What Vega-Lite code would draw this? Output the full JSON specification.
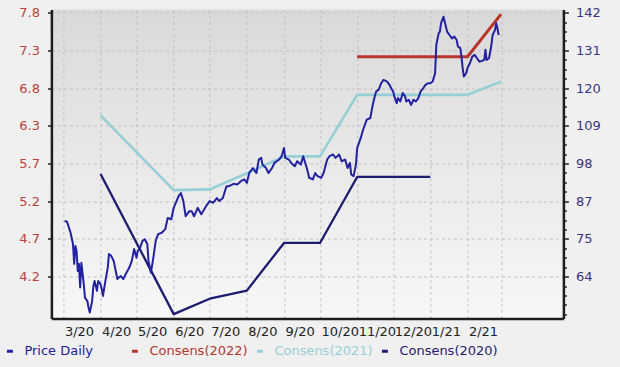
{
"$schema": "https://vega.github.io/schema/vega-lite/v6.json",
"width": 512, "height": 309,
"autosize": {"type": "none"},
"padding": {"left": 51.4, "top": 9.5, "right": 56.5, "bottom": 48.5},
"background": "#f0f0f0",
"config": {
  "view": {"stroke": null, "fill": {"gradient": "linear", "x1": 0, "y1": 0, "x2": 0, "y2": 1, "stops": [{"offset": 0, "color": "#d9d9d9"}, {"offset": 0.5, "color": "#e9e9e9"}, {"offset": 1, "color": "#f7f7f7"}]}},
  "font": "DejaVu Sans",
  "axis": {"labelFont": "DejaVu Sans", "labelFontSize": 13, "title": null, "labelOverlap": false, "labelFlush": false}
},
"data": {"values": [
{"s":"Consens(2020)","d":"2020-04-01","v":5.60},
{"s":"Consens(2020)","d":"2020-06-01","v":3.69},
{"s":"Consens(2020)","d":"2020-07-01","v":3.90},
{"s":"Consens(2020)","d":"2020-08-01","v":4.01},
{"s":"Consens(2020)","d":"2020-09-01","v":4.66},
{"s":"Consens(2020)","d":"2020-10-01","v":4.66},
{"s":"Consens(2020)","d":"2020-11-01","v":5.56},
{"s":"Consens(2020)","d":"2021-01-01","v":5.56},
{"s":"Consens(2021)","d":"2020-04-01","v":6.40},
{"s":"Consens(2021)","d":"2020-06-01","v":5.38},
{"s":"Consens(2021)","d":"2020-07-01","v":5.39},
{"s":"Consens(2021)","d":"2020-08-01","v":5.61},
{"s":"Consens(2021)","d":"2020-09-01","v":5.84},
{"s":"Consens(2021)","d":"2020-10-01","v":5.84},
{"s":"Consens(2021)","d":"2020-11-01","v":6.68},
{"s":"Consens(2021)","d":"2021-02-01","v":6.68},
{"s":"Consens(2021)","d":"2021-03-01","v":6.86},
{"s":"Consens(2022)","d":"2020-11-01","v":7.20},
{"s":"Consens(2022)","d":"2021-02-01","v":7.20},
{"s":"Consens(2022)","d":"2021-03-01","v":7.78},
{"s":"Price Daily","d":"2020-03-02","v":80.8},
{"s":"Price Daily","d":"2020-03-04","v":80.6},
{"s":"Price Daily","d":"2020-03-07","v":77.3},
{"s":"Price Daily","d":"2020-03-09","v":74.0},
{"s":"Price Daily","d":"2020-03-10","v":68.1},
{"s":"Price Daily","d":"2020-03-11","v":73.4},
{"s":"Price Daily","d":"2020-03-12","v":71.9},
{"s":"Price Daily","d":"2020-03-13","v":66.0},
{"s":"Price Daily","d":"2020-03-14","v":68.1},
{"s":"Price Daily","d":"2020-03-15","v":61.1},
{"s":"Price Daily","d":"2020-03-16","v":68.4},
{"s":"Price Daily","d":"2020-03-18","v":62.1},
{"s":"Price Daily","d":"2020-03-19","v":58.1},
{"s":"Price Daily","d":"2020-03-21","v":57.1},
{"s":"Price Daily","d":"2020-03-22","v":55.1},
{"s":"Price Daily","d":"2020-03-23","v":53.7},
{"s":"Price Daily","d":"2020-03-25","v":57.1},
{"s":"Price Daily","d":"2020-03-26","v":61.5},
{"s":"Price Daily","d":"2020-03-27","v":63.0},
{"s":"Price Daily","d":"2020-03-29","v":60.1},
{"s":"Price Daily","d":"2020-03-30","v":63.0},
{"s":"Price Daily","d":"2020-04-01","v":62.1},
{"s":"Price Daily","d":"2020-04-02","v":60.6},
{"s":"Price Daily","d":"2020-04-03","v":58.6},
{"s":"Price Daily","d":"2020-04-05","v":63.0},
{"s":"Price Daily","d":"2020-04-07","v":67.0},
{"s":"Price Daily","d":"2020-04-08","v":71.0},
{"s":"Price Daily","d":"2020-04-10","v":70.4},
{"s":"Price Daily","d":"2020-04-12","v":68.9},
{"s":"Price Daily","d":"2020-04-15","v":63.6},
{"s":"Price Daily","d":"2020-04-16","v":64.0},
{"s":"Price Daily","d":"2020-04-18","v":64.5},
{"s":"Price Daily","d":"2020-04-20","v":63.6},
{"s":"Price Daily","d":"2020-04-22","v":65.1},
{"s":"Price Daily","d":"2020-04-25","v":67.0},
{"s":"Price Daily","d":"2020-04-27","v":68.9},
{"s":"Price Daily","d":"2020-04-29","v":72.5},
{"s":"Price Daily","d":"2020-05-01","v":69.9},
{"s":"Price Daily","d":"2020-05-02","v":71.9},
{"s":"Price Daily","d":"2020-05-04","v":72.9},
{"s":"Price Daily","d":"2020-05-06","v":74.9},
{"s":"Price Daily","d":"2020-05-08","v":75.4},
{"s":"Price Daily","d":"2020-05-10","v":74.0},
{"s":"Price Daily","d":"2020-05-11","v":68.9},
{"s":"Price Daily","d":"2020-05-13","v":65.5},
{"s":"Price Daily","d":"2020-05-15","v":69.9},
{"s":"Price Daily","d":"2020-05-17","v":74.9},
{"s":"Price Daily","d":"2020-05-19","v":76.9},
{"s":"Price Daily","d":"2020-05-22","v":77.3},
{"s":"Price Daily","d":"2020-05-25","v":78.4},
{"s":"Price Daily","d":"2020-05-27","v":81.7},
{"s":"Price Daily","d":"2020-05-30","v":81.3},
{"s":"Price Daily","d":"2020-06-01","v":84.7},
{"s":"Price Daily","d":"2020-06-05","v":88.1},
{"s":"Price Daily","d":"2020-06-07","v":89.1},
{"s":"Price Daily","d":"2020-06-09","v":86.7},
{"s":"Price Daily","d":"2020-06-11","v":82.2},
{"s":"Price Daily","d":"2020-06-14","v":83.7},
{"s":"Price Daily","d":"2020-06-16","v":83.7},
{"s":"Price Daily","d":"2020-06-18","v":82.2},
{"s":"Price Daily","d":"2020-06-21","v":84.7},
{"s":"Price Daily","d":"2020-06-24","v":82.8},
{"s":"Price Daily","d":"2020-06-28","v":85.2},
{"s":"Price Daily","d":"2020-07-01","v":86.7},
{"s":"Price Daily","d":"2020-07-04","v":86.2},
{"s":"Price Daily","d":"2020-07-07","v":87.6},
{"s":"Price Daily","d":"2020-07-09","v":86.7},
{"s":"Price Daily","d":"2020-07-12","v":87.6},
{"s":"Price Daily","d":"2020-07-15","v":91.1},
{"s":"Price Daily","d":"2020-07-17","v":91.1},
{"s":"Price Daily","d":"2020-07-21","v":91.8},
{"s":"Price Daily","d":"2020-07-24","v":91.6},
{"s":"Price Daily","d":"2020-07-27","v":92.6},
{"s":"Price Daily","d":"2020-07-30","v":93.1},
{"s":"Price Daily","d":"2020-08-01","v":92.1},
{"s":"Price Daily","d":"2020-08-03","v":95.0},
{"s":"Price Daily","d":"2020-08-06","v":96.5},
{"s":"Price Daily","d":"2020-08-09","v":95.0},
{"s":"Price Daily","d":"2020-08-11","v":99.0},
{"s":"Price Daily","d":"2020-08-13","v":99.5},
{"s":"Price Daily","d":"2020-08-14","v":97.5},
{"s":"Price Daily","d":"2020-08-17","v":96.5},
{"s":"Price Daily","d":"2020-08-19","v":95.0},
{"s":"Price Daily","d":"2020-08-22","v":96.5},
{"s":"Price Daily","d":"2020-08-24","v":98.0},
{"s":"Price Daily","d":"2020-08-28","v":99.0},
{"s":"Price Daily","d":"2020-08-30","v":100.0},
{"s":"Price Daily","d":"2020-09-01","v":102.4},
{"s":"Price Daily","d":"2020-09-02","v":99.5},
{"s":"Price Daily","d":"2020-09-05","v":99.0},
{"s":"Price Daily","d":"2020-09-07","v":98.0},
{"s":"Price Daily","d":"2020-09-10","v":97.0},
{"s":"Price Daily","d":"2020-09-12","v":98.5},
{"s":"Price Daily","d":"2020-09-15","v":97.5},
{"s":"Price Daily","d":"2020-09-17","v":100.0},
{"s":"Price Daily","d":"2020-09-20","v":96.5},
{"s":"Price Daily","d":"2020-09-22","v":93.6},
{"s":"Price Daily","d":"2020-09-25","v":93.1},
{"s":"Price Daily","d":"2020-09-27","v":95.0},
{"s":"Price Daily","d":"2020-09-29","v":94.1},
{"s":"Price Daily","d":"2020-10-02","v":93.6},
{"s":"Price Daily","d":"2020-10-04","v":95.0},
{"s":"Price Daily","d":"2020-10-07","v":99.0},
{"s":"Price Daily","d":"2020-10-09","v":100.0},
{"s":"Price Daily","d":"2020-10-12","v":100.5},
{"s":"Price Daily","d":"2020-10-14","v":99.5},
{"s":"Price Daily","d":"2020-10-17","v":100.5},
{"s":"Price Daily","d":"2020-10-19","v":98.5},
{"s":"Price Daily","d":"2020-10-22","v":99.0},
{"s":"Price Daily","d":"2020-10-24","v":96.5},
{"s":"Price Daily","d":"2020-10-26","v":98.0},
{"s":"Price Daily","d":"2020-10-27","v":94.6},
{"s":"Price Daily","d":"2020-10-29","v":94.1},
{"s":"Price Daily","d":"2020-10-31","v":97.5},
{"s":"Price Daily","d":"2020-11-01","v":102.4},
{"s":"Price Daily","d":"2020-11-04","v":105.4},
{"s":"Price Daily","d":"2020-11-06","v":107.9},
{"s":"Price Daily","d":"2020-11-09","v":110.8},
{"s":"Price Daily","d":"2020-11-12","v":111.3},
{"s":"Price Daily","d":"2020-11-13","v":113.3},
{"s":"Price Daily","d":"2020-11-14","v":115.2},
{"s":"Price Daily","d":"2020-11-16","v":118.2},
{"s":"Price Daily","d":"2020-11-17","v":119.2},
{"s":"Price Daily","d":"2020-11-19","v":119.7},
{"s":"Price Daily","d":"2020-11-21","v":121.6},
{"s":"Price Daily","d":"2020-11-23","v":122.6},
{"s":"Price Daily","d":"2020-11-26","v":122.1},
{"s":"Price Daily","d":"2020-11-28","v":121.1},
{"s":"Price Daily","d":"2020-11-30","v":119.7},
{"s":"Price Daily","d":"2020-12-01","v":119.2},
{"s":"Price Daily","d":"2020-12-02","v":117.7},
{"s":"Price Daily","d":"2020-12-04","v":115.7},
{"s":"Price Daily","d":"2020-12-05","v":117.2},
{"s":"Price Daily","d":"2020-12-07","v":116.2},
{"s":"Price Daily","d":"2020-12-09","v":118.7},
{"s":"Price Daily","d":"2020-12-11","v":117.7},
{"s":"Price Daily","d":"2020-12-12","v":116.2},
{"s":"Price Daily","d":"2020-12-14","v":116.7},
{"s":"Price Daily","d":"2020-12-16","v":115.2},
{"s":"Price Daily","d":"2020-12-18","v":116.7},
{"s":"Price Daily","d":"2020-12-20","v":116.2},
{"s":"Price Daily","d":"2020-12-22","v":117.2},
{"s":"Price Daily","d":"2020-12-24","v":119.2},
{"s":"Price Daily","d":"2020-12-26","v":120.1},
{"s":"Price Daily","d":"2020-12-28","v":121.1},
{"s":"Price Daily","d":"2020-12-30","v":121.6},
{"s":"Price Daily","d":"2021-01-01","v":121.6},
{"s":"Price Daily","d":"2021-01-03","v":122.1},
{"s":"Price Daily","d":"2021-01-05","v":124.6},
{"s":"Price Daily","d":"2021-01-06","v":133.0},
{"s":"Price Daily","d":"2021-01-08","v":136.4},
{"s":"Price Daily","d":"2021-01-09","v":136.9},
{"s":"Price Daily","d":"2021-01-10","v":139.4},
{"s":"Price Daily","d":"2021-01-12","v":141.3},
{"s":"Price Daily","d":"2021-01-13","v":139.9},
{"s":"Price Daily","d":"2021-01-15","v":136.9},
{"s":"Price Daily","d":"2021-01-17","v":135.9},
{"s":"Price Daily","d":"2021-01-19","v":134.9},
{"s":"Price Daily","d":"2021-01-21","v":135.4},
{"s":"Price Daily","d":"2021-01-23","v":134.4},
{"s":"Price Daily","d":"2021-01-24","v":132.5},
{"s":"Price Daily","d":"2021-01-26","v":132.0},
{"s":"Price Daily","d":"2021-01-27","v":129.5},
{"s":"Price Daily","d":"2021-01-28","v":126.1},
{"s":"Price Daily","d":"2021-01-29","v":123.6},
{"s":"Price Daily","d":"2021-01-31","v":124.6},
{"s":"Price Daily","d":"2021-02-01","v":126.1},
{"s":"Price Daily","d":"2021-02-03","v":127.5},
{"s":"Price Daily","d":"2021-02-05","v":129.5},
{"s":"Price Daily","d":"2021-02-07","v":130.0},
{"s":"Price Daily","d":"2021-02-09","v":129.0},
{"s":"Price Daily","d":"2021-02-11","v":128.0},
{"s":"Price Daily","d":"2021-02-13","v":128.2},
{"s":"Price Daily","d":"2021-02-15","v":128.5},
{"s":"Price Daily","d":"2021-02-16","v":131.5},
{"s":"Price Daily","d":"2021-02-17","v":128.5},
{"s":"Price Daily","d":"2021-02-19","v":129.0},
{"s":"Price Daily","d":"2021-02-21","v":133.0},
{"s":"Price Daily","d":"2021-02-22","v":135.9},
{"s":"Price Daily","d":"2021-02-24","v":137.4},
{"s":"Price Daily","d":"2021-02-25","v":139.4},
{"s":"Price Daily","d":"2021-02-26","v":137.9},
{"s":"Price Daily","d":"2021-02-27","v":135.9}
]},
"encoding": {
  "x": {"field": "d", "type": "temporal",
    "scale": {"type": "utc", "domain": [{"year": 2020, "month": 2, "date": 20, "utc": true}, {"year": 2021, "month": 4, "date": 22, "utc": true}]},
    "axis": {
      "values": [
        {"year": 2020, "month": 3, "date": 1, "utc": true},
        {"year": 2020, "month": 4, "date": 1, "utc": true},
        {"year": 2020, "month": 5, "date": 1, "utc": true},
        {"year": 2020, "month": 6, "date": 1, "utc": true},
        {"year": 2020, "month": 7, "date": 1, "utc": true},
        {"year": 2020, "month": 8, "date": 1, "utc": true},
        {"year": 2020, "month": 9, "date": 1, "utc": true},
        {"year": 2020, "month": 10, "date": 1, "utc": true},
        {"year": 2020, "month": 11, "date": 1, "utc": true},
        {"year": 2020, "month": 12, "date": 1, "utc": true},
        {"year": 2021, "month": 1, "date": 1, "utc": true},
        {"year": 2021, "month": 2, "date": 1, "utc": true},
        {"year": 2021, "month": 3, "date": 1, "utc": true}
      ],
      "labelExpr": "datum.value >= utc(2021, 2, 1) ? '' : utcFormat(datum.value, '%-m/%y')",
      "grid": true, "gridColor": "#c2c2c2", "gridDash": [3, 3], "gridWidth": 1,
      "ticks": false, "tickSize": 0,
      "domainColor": "#1e1e1e", "domainWidth": 2.5,
      "labelAlign": "left", "labelBaseline": "top", "labelPadding": 7, "labelOffset": 1,
      "labelColor": "#222222"
    }
  }
},
"layer": [
  {
    "transform": [{"filter": "datum.s !== 'Price Daily'"}],
    "mark": {"type": "line", "strokeJoin": "round"},
    "encoding": {
      "y": {"field": "v", "type": "quantitative",
        "scale": {"domain": [3.63, 7.8436], "nice": false, "zero": false},
        "axis": {"orient": "left",
          "values": [4.2, 4.7143, 5.2286, 5.7429, 6.2571, 6.7714, 7.2857, 7.8],
          "format": ".1f", "labelColor": "#b8443c",
          "grid": true, "gridColor": "#c2c2c2", "gridDash": [3, 3], "gridWidth": 1,
          "tickSize": 4, "tickColor": "#222222", "tickWidth": 1.5,
          "domainColor": "#1e1e1e", "domainWidth": 2.5, "labelPadding": 8}
      },
      "color": {"field": "s", "type": "nominal",
        "scale": {"domain": ["Price Daily", "Consens(2022)", "Consens(2021)", "Consens(2020)"], "range": ["#2222a0", "#b8352b", "#96cfd7", "#1c1c70"]},
        "legend": {"orient": "none", "legendX": -48, "legendY": 335, "direction": "horizontal", "columns": 4, "gridAlign": "all", "columnPadding": 2, "title": null,
          "symbolType": "stroke", "symbolSize": 36, "symbolStrokeWidth": 3, "labelFont": "DejaVu Sans", "labelFontSize": 13, "labelOffset": 8, "padding": 0,
          "encode": {"labels": {"update": {"fill": {"scale": "color", "field": "value"}}}}}
      },
      "strokeWidth": {"field": "s", "type": "nominal", "scale": {"domain": ["Consens(2022)", "Consens(2021)", "Consens(2020)"], "range": [3, 2.3, 2]}, "legend": null}
    }
  },
  {
    "transform": [{"filter": "datum.s === 'Price Daily'"}],
    "mark": {"type": "line", "strokeWidth": 2, "strokeJoin": "round"},
    "encoding": {
      "y": {"field": "v", "type": "quantitative",
        "scale": {"domain": [51.92, 143.44], "nice": false, "zero": false},
        "axis": {"orient": "right",
          "values": [53.13, 55.9225, 58.715, 61.5075, 64.3, 67.0925, 69.885, 72.6775, 75.47, 78.2625, 81.055, 83.8475, 86.64, 89.4325, 92.225, 95.0175, 97.81, 100.6025, 103.395, 106.1875, 108.98, 111.7725, 114.565, 117.3575, 120.15, 122.9425, 125.735, 128.5275, 131.32, 134.1125, 136.905, 139.6975, 142.49],
          "labelExpr": "datum.value > 60 && abs((datum.value - 64.3) / 11.17 - round((datum.value - 64.3) / 11.17)) < 0.01 ? format(datum.value, '.0f') : ''",
          "labelColor": "#35358a", "grid": false,
          "tickSize": {"condition": {"test": "datum.value > 60 && abs((datum.value - 64.3) / 11.17 - round((datum.value - 64.3) / 11.17)) < 0.01", "value": 5}, "value": 3},
          "tickColor": "#222222", "tickWidth": 1.5,
          "domainColor": "#1e1e1e", "domainWidth": 2.5, "labelPadding": 7}
      },
      "color": {"field": "s", "type": "nominal"}
    }
  }
],
"resolve": {"scale": {"y": "independent"}, "axis": {"y": "independent"}}
}
